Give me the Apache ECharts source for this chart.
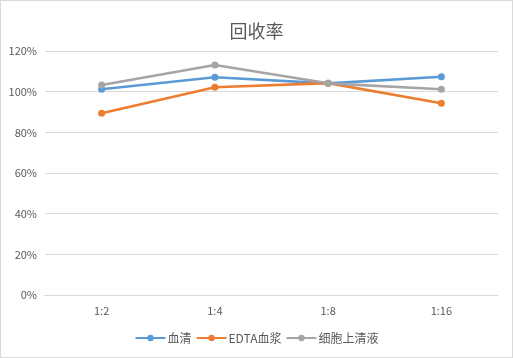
<!DOCTYPE html>
<html><head><meta charset="utf-8">
<script src="https://cdn.jsdelivr.net/npm/echarts@6/dist/echarts.min.js"></script>
<style>html,body{margin:0;padding:0;background:#fff}#c{position:absolute;left:0;top:0;width:511px;height:356px;border:1px solid #d9d9d9}</style>
</head><body><div id="c"></div>
<script>
var categories = ['1:2', '1:4', '1:8', '1:16'];
var serum = [1.012, 1.071, 1.041, 1.073];
var edtaPlasma = [0.894, 1.022, 1.042, 0.943];
var cellSupernatant = [1.033, 1.131, 1.041, 1.012];
var seriesNames = ['血清', 'EDTA血浆', '细胞上清液'];
var colors = ['#5B9BD5', '#ED7D31', '#A5A5A5'];
var font = '"Microsoft YaHei","Noto Sans CJK SC",sans-serif';
var chart = echarts.init(document.getElementById('c'));
function s(name, data, color) {
  return {name: name, type: 'line', data: data, symbol: 'circle', symbolSize: 7,
    lineStyle: {width: 2.6, color: color}, itemStyle: {color: color}};
}
chart.setOption({
  animation: false,
  title: {text: '回收率', left: 'center', top: 16, textStyle: {fontSize: 18, fontWeight: 'normal', color: '#595959', fontFamily: font}},
  grid: {left: 44, right: 14, top: 50, bottom: 62},
  legend: {bottom: 8, left: 'center', itemWidth: 30, itemHeight: 8, itemGap: 4,
    textStyle: {fontSize: 12, color: '#595959', fontFamily: font, padding: [0, 0, 0, -3]},
    data: seriesNames},
  xAxis: {type: 'category', data: categories, boundaryGap: true,
    axisLine: {lineStyle: {color: '#d9d9d9'}}, axisTick: {show: false},
    axisLabel: {color: '#595959', fontSize: 11, margin: 10, fontFamily: font}},
  yAxis: {type: 'value', min: 0, max: 1.2, interval: 0.2,
    axisLine: {show: false}, axisTick: {show: false},
    splitLine: {lineStyle: {color: '#d9d9d9'}},
    axisLabel: {color: '#595959', fontSize: 11, margin: 8, fontFamily: font,
      formatter: function (v) { return Math.round(v * 100) + '%'; }}},
  series: [s(seriesNames[0], serum, colors[0]), s(seriesNames[1], edtaPlasma, colors[1]), s(seriesNames[2], cellSupernatant, colors[2])]
});
</script></body></html>
